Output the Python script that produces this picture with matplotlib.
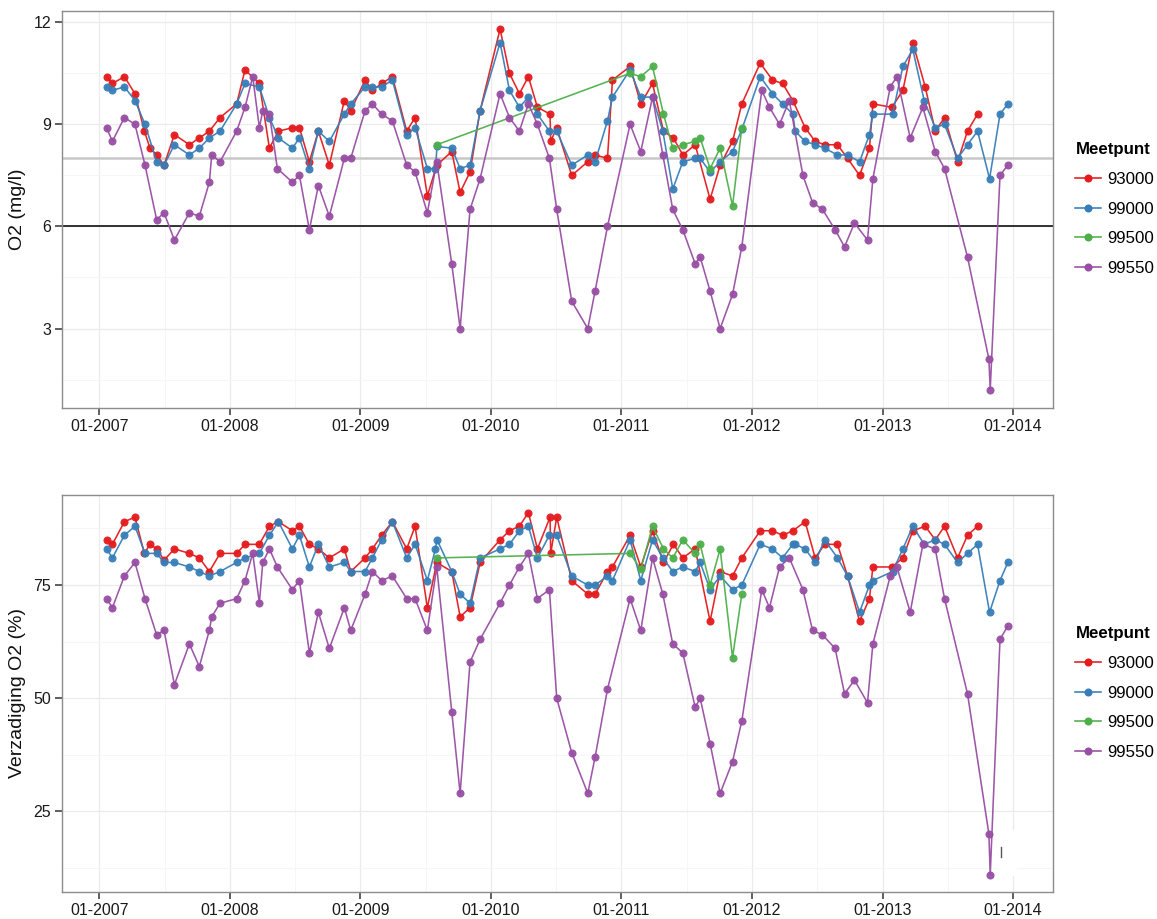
import matplotlib
matplotlib.use("Agg")
import matplotlib.pyplot as plt
from matplotlib.lines import Line2D
from matplotlib.patches import Rectangle
from matplotlib.ticker import FixedLocator

plt.rcParams['font.family'] = ['Liberation Sans', 'DejaVu Sans']

# ---------------- data (dates as decimal years) ----------------
series_names = ["93000", "99000", "99500", "99550"]
series_colors = ["#E41A1C", "#377EB8", "#4DAF4A", "#984EA3"]

dates_93000 = [2007.056, 2007.100, 2007.192, 2007.273, 2007.345, 2007.388, 2007.439, 2007.496, 2007.575,
               2007.690, 2007.766, 2007.843, 2007.925, 2008.052, 2008.116, 2008.226, 2008.303, 2008.372,
               2008.479, 2008.533, 2008.609, 2008.678, 2008.762, 2008.877, 2008.926, 2009.036, 2009.092,
               2009.163, 2009.245, 2009.355, 2009.419, 2009.513, 2009.585, 2009.700, 2009.764, 2009.840,
               2009.917, 2010.070, 2010.142, 2010.218, 2010.287, 2010.356, 2010.453, 2010.458, 2010.504,
               2010.619, 2010.742, 2010.798, 2010.893, 2010.931, 2011.066, 2011.148, 2011.238, 2011.322,
               2011.398, 2011.470, 2011.565, 2011.679, 2011.756, 2011.851, 2011.922, 2012.063, 2012.157,
               2012.234, 2012.313, 2012.407, 2012.484, 2012.556, 2012.655, 2012.732, 2012.824, 2012.900,
               2012.926, 2013.072, 2013.156, 2013.232, 2013.327, 2013.404, 2013.475, 2013.575, 2013.651,
               2013.728]
o2_93000 = [10.4, 10.2, 10.4, 9.9, 8.8, 8.3, 8.1, 7.8, 8.7, 8.4, 8.6, 8.8, 9.2, 9.6, 10.6, 10.2, 8.3, 8.8,
            8.9, 8.9, 7.9, 8.8, 7.8, 9.7, 9.4, 10.3, 10.0, 10.2, 10.4, 8.8, 9.2, 6.9, 7.8, 8.2, 7.0, 7.6,
            9.4, 11.8, 10.5, 9.9, 10.4, 9.5, 9.3, 8.5, 8.9, 7.5, 7.9, 8.1, 8.0, 10.3, 10.7, 9.6, 10.2, 8.8,
            8.6, 8.1, 8.4, 6.8, 7.8, 8.5, 9.6, 10.8, 10.3, 10.2, 9.7, 8.9, 8.5, 8.4, 8.4, 8.0, 7.5, 8.3,
            9.6, 9.5, 10.0, 11.4, 10.1, 8.8, 9.2, 7.9, 8.8, 9.3]
sat_93000 = [85, 84, 89, 90, 82, 84, 83, 80.5, 83, 82, 81, 78, 82, 82, 84, 84, 88, 89, 87, 88, 84, 83,
             81, 83, 78, 81, 83, 86, 89, 83, 88, 70, 80, 78, 68, 70, 80, 85, 87, 88, 91, 83, 90, 82, 90,
             76, 73, 73, 78, 79, 86, 79, 87, 80, 84, 81, 83, 67, 78, 77, 81, 87, 87, 86, 87, 89, 81, 84,
             84, 77, 67, 72, 79, 79, 81, 87, 88, 85, 88, 81, 86, 88]

dates_99000 = [2007.056, 2007.100, 2007.192, 2007.273, 2007.350, 2007.439, 2007.496, 2007.575, 2007.690,
               2007.766, 2007.843, 2007.925, 2008.052, 2008.116, 2008.226, 2008.303, 2008.372, 2008.479,
               2008.533, 2008.609, 2008.678, 2008.762, 2008.877, 2008.926, 2009.036, 2009.092, 2009.163,
               2009.245, 2009.355, 2009.419, 2009.513, 2009.575, 2009.587, 2009.700, 2009.764, 2009.840,
               2009.917, 2010.070, 2010.142, 2010.218, 2010.287, 2010.356, 2010.448, 2010.504, 2010.619,
               2010.742, 2010.798, 2010.893, 2010.931, 2011.066, 2011.148, 2011.238, 2011.317, 2011.393,
               2011.470, 2011.565, 2011.603, 2011.679, 2011.756, 2011.851, 2011.922, 2012.063, 2012.157,
               2012.234, 2012.313, 2012.331, 2012.407, 2012.484, 2012.556, 2012.655, 2012.732, 2012.824,
               2012.900, 2012.926, 2013.077, 2013.156, 2013.232, 2013.319, 2013.404, 2013.475, 2013.575,
               2013.651, 2013.728, 2013.820, 2013.900, 2013.960]
o2_99000 = [10.1, 10.0, 10.1, 9.7, 9.0, 7.9, 7.8, 8.4, 8.1, 8.3, 8.6, 8.8, 9.6, 10.2, 10.1, 9.2, 8.6, 8.3,
            8.6, 7.7, 8.8, 8.5, 9.3, 9.6, 10.1, 10.1, 10.1, 10.3, 8.7, 8.9, 7.7, 7.7, 8.35, 8.3, 7.7, 7.8,
            9.4, 11.4, 10.0, 9.5, 9.8, 9.3, 8.8, 8.8, 7.8, 8.1, 7.9, 9.1, 9.8, 10.6, 9.8, 9.8, 8.8, 7.1,
            7.9, 8.0, 8.0, 7.6, 7.9, 8.2, 8.85, 10.4, 9.9, 9.6, 9.3, 8.8, 8.5, 8.4, 8.3, 8.1, 8.1, 7.9,
            8.7, 9.3, 9.3, 10.7, 11.2, 9.7, 8.9, 9.0, 8.0, 8.4, 8.8, 7.4, 9.3, 9.6]
sat_99000 = [83, 81, 86, 88, 82, 82, 80, 80, 79, 78, 77, 78, 80, 81, 82, 86, 89, 83, 86, 79, 84, 79, 80,
             78, 78, 81, 85, 89, 81, 84, 76, 83, 85, 78, 73, 71, 81, 83, 84, 87, 88, 81, 86, 86, 77, 75,
             75, 77, 76, 85, 76, 85, 81, 78, 79, 78, 80, 74, 77, 74, 75, 84, 83, 81, 84, 84, 83, 80, 85,
             81, 77, 69, 75, 76, 78, 83, 88, 84, 85, 84, 80, 82, 84, 69, 76, 80]

dates_99500 = [2009.585, 2011.066, 2011.148, 2011.238, 2011.322, 2011.393, 2011.470, 2011.565, 2011.603,
               2011.679, 2011.756, 2011.851, 2011.922]
o2_99500 = [8.4, 10.5, 10.4, 10.7, 9.3, 8.3, 8.4, 8.5, 8.6, 7.7, 8.3, 6.6, 8.9]
sat_99500 = [81, 82, 78.5, 88, 83, 81, 85, 82, 84, 75, 83, 59, 73]

dates_99550 = [2007.056, 2007.100, 2007.192, 2007.273, 2007.350, 2007.439, 2007.496, 2007.575, 2007.690,
               2007.766, 2007.843, 2007.861, 2007.925, 2008.052, 2008.116, 2008.175, 2008.226, 2008.252,
               2008.303, 2008.364, 2008.479, 2008.533, 2008.609, 2008.678, 2008.762, 2008.877, 2008.926,
               2009.036, 2009.092, 2009.163, 2009.245, 2009.355, 2009.419, 2009.513, 2009.585, 2009.700,
               2009.764, 2009.840, 2009.917, 2010.070, 2010.142, 2010.218, 2010.287, 2010.356, 2010.448,
               2010.504, 2010.619, 2010.742, 2010.798, 2010.893, 2011.066, 2011.148, 2011.238, 2011.317,
               2011.393, 2011.470, 2011.565, 2011.603, 2011.679, 2011.756, 2011.851, 2011.922, 2012.075,
               2012.134, 2012.211, 2012.286, 2012.390, 2012.464, 2012.540, 2012.637, 2012.709, 2012.785,
               2012.885, 2012.926, 2013.059, 2013.110, 2013.212, 2013.309, 2013.404, 2013.475, 2013.651,
               2013.815, 2013.825, 2013.900, 2013.960]
o2_99550 = [8.9, 8.5, 9.2, 9.0, 7.8, 6.2, 6.4, 5.6, 6.4, 6.3, 7.3, 8.1, 7.9, 8.8, 9.5, 10.4, 8.9, 9.4, 9.3,
            7.7, 7.3, 7.5, 5.9, 7.2, 6.3, 8.0, 8.0, 9.4, 9.6, 9.3, 9.1, 7.8, 7.6, 6.4, 7.9, 4.9, 3.0, 6.5,
            7.4, 9.9, 9.2, 8.8, 9.6, 9.0, 8.0, 6.5, 3.8, 3.0, 4.1, 6.0, 9.0, 8.2, 9.8, 8.1, 6.5, 5.9, 4.9,
            5.1, 4.1, 3.0, 4.0, 5.4, 10.0, 9.5, 9.0, 9.7, 7.5, 6.7, 6.5, 5.9, 5.4, 6.1, 5.6, 7.4, 10.1,
            10.4, 8.6, 9.5, 8.2, 7.7, 5.1, 2.1, 1.2, 7.5, 7.8]
sat_99550 = [72, 70, 77, 80, 72, 64, 65, 53, 62, 57, 65, 68, 71, 72, 76, 82, 71, 80, 83, 79, 74, 76, 60,
             69, 61, 70, 65, 73, 78, 76, 77, 72, 72, 65, 79, 47, 29, 58, 63, 71, 75, 79, 82, 72, 74, 50,
             38, 29, 37, 52, 72, 65, 81, 73, 62, 60, 48, 50, 40, 29, 36, 45, 74, 70, 79, 81, 74, 65, 64,
             61, 51, 54, 49, 62, 77, 79, 69, 84, 83, 72, 51, 20, 11, 63, 66]

all_dates = [dates_93000, dates_99000, dates_99500, dates_99550]
all_o2 = [o2_93000, o2_99000, o2_99500, o2_99550]
all_sat = [sat_93000, sat_99000, sat_99500, sat_99550]

year_ticks = [2007, 2008, 2009, 2010, 2011, 2012, 2013, 2014]
year_labels = ["01-%d" % y for y in year_ticks]
half_years = [2007.5, 2008.5, 2009.5, 2010.5, 2011.5, 2012.5, 2013.5]

o2_ticks = [3, 6, 9, 12]
o2_minor = [1.5, 4.5, 7.5, 10.5]
sat_ticks = [25, 50, 75]
sat_minor = [12.5, 37.5, 62.5, 87.5]
o2_norm = 6
o2_ref = 8

# ---------------- figure ----------------
W, H = 1157, 919
fig = plt.figure(figsize=(W / 100, H / 100), dpi=100)
fig.patch.set_facecolor("white")


def px_axes(l, t, r, b):
    return fig.add_axes([l / W, 1 - b / H, (r - l) / W, (b - t) / H])


ax1 = px_axes(62, 11, 1053, 408)
ax2 = px_axes(62, 495, 1053, 892)

xlim = (2006.714, 2014.306)


def style(ax, yt, ym, ylim, ylabel):
    ax.set_xlim(*xlim)
    ax.set_ylim(*ylim)
    ax.set_facecolor("white")
    ax.xaxis.set_major_locator(FixedLocator(year_ticks))
    ax.set_xticklabels(year_labels)
    ax.xaxis.set_minor_locator(FixedLocator(half_years))
    ax.yaxis.set_major_locator(FixedLocator(yt))
    ax.yaxis.set_minor_locator(FixedLocator(ym))
    ax.grid(True, which="major", color="#EBEBEB", lw=0.9, zorder=0)
    ax.grid(True, which="minor", color="#F6F6F6", lw=0.7, zorder=0)
    ax.set_axisbelow(True)
    ax.tick_params(which="major", direction="out", length=5, width=1.1, color="#333333",
                   labelsize=11.5, labelcolor="#1a1a1a", pad=3)
    ax.tick_params(which="minor", length=0)
    for s in ax.spines.values():
        s.set_color("#8C8C8C")
        s.set_linewidth(1.0)
    ax.set_ylabel(ylabel, fontsize=14, color="#111111", labelpad=5)


style(ax1, o2_ticks, o2_minor, (0.665, 12.33), "O2 (mg/l)")
style(ax2, sat_ticks, sat_minor, (7.2, 94.9), "Verzadiging O2 (%)")

ax1.axhline(o2_ref, color="#C8C8C8", lw=1.8, zorder=1)
ax1.axhline(o2_norm, color="#222222", lw=1.3, zorder=1)

for d, o, s, c in zip(all_dates, all_o2, all_sat, series_colors):
    ax1.plot(d, o, color=c, lw=1.15, marker="o", ms=5.8, mew=0, zorder=3, alpha=0.95)
    ax2.plot(d, s, color=c, lw=1.15, marker="o", ms=5.8, mew=0, zorder=3, alpha=0.95)

# legends
handles = [Line2D([0], [0], color=c, lw=1.15, marker="o", ms=5.8, mew=0) for c in series_colors]
for top in (139, 623):
    leg = fig.legend(handles, series_names, loc="upper left",
                     bbox_to_anchor=(1072 / W, 1 - top / H), frameon=False,
                     fontsize=12.2, title="Meetpunt", handlelength=1.5, handletextpad=0.4,
                     labelspacing=0.86, borderaxespad=0, borderpad=0.2)
    leg.get_title().set_fontweight("bold")
    leg.get_title().set_fontsize(12.2)
    leg._legend_box.align = "left"

# small white artefact box in the lower panel
fig.add_artist(Rectangle((999 / W, 1 - 876 / H), 18 / W, 46 / H, transform=fig.transFigure,
                         facecolor="white", edgecolor="none", zorder=2))
fig.add_artist(Line2D([1001 / W, 1001 / W], [1 - 857 / H, 1 - 847 / H], transform=fig.transFigure,
                      color="#555555", lw=1.0, zorder=3))

fig.savefig("out.png", dpi=100, facecolor="white")
